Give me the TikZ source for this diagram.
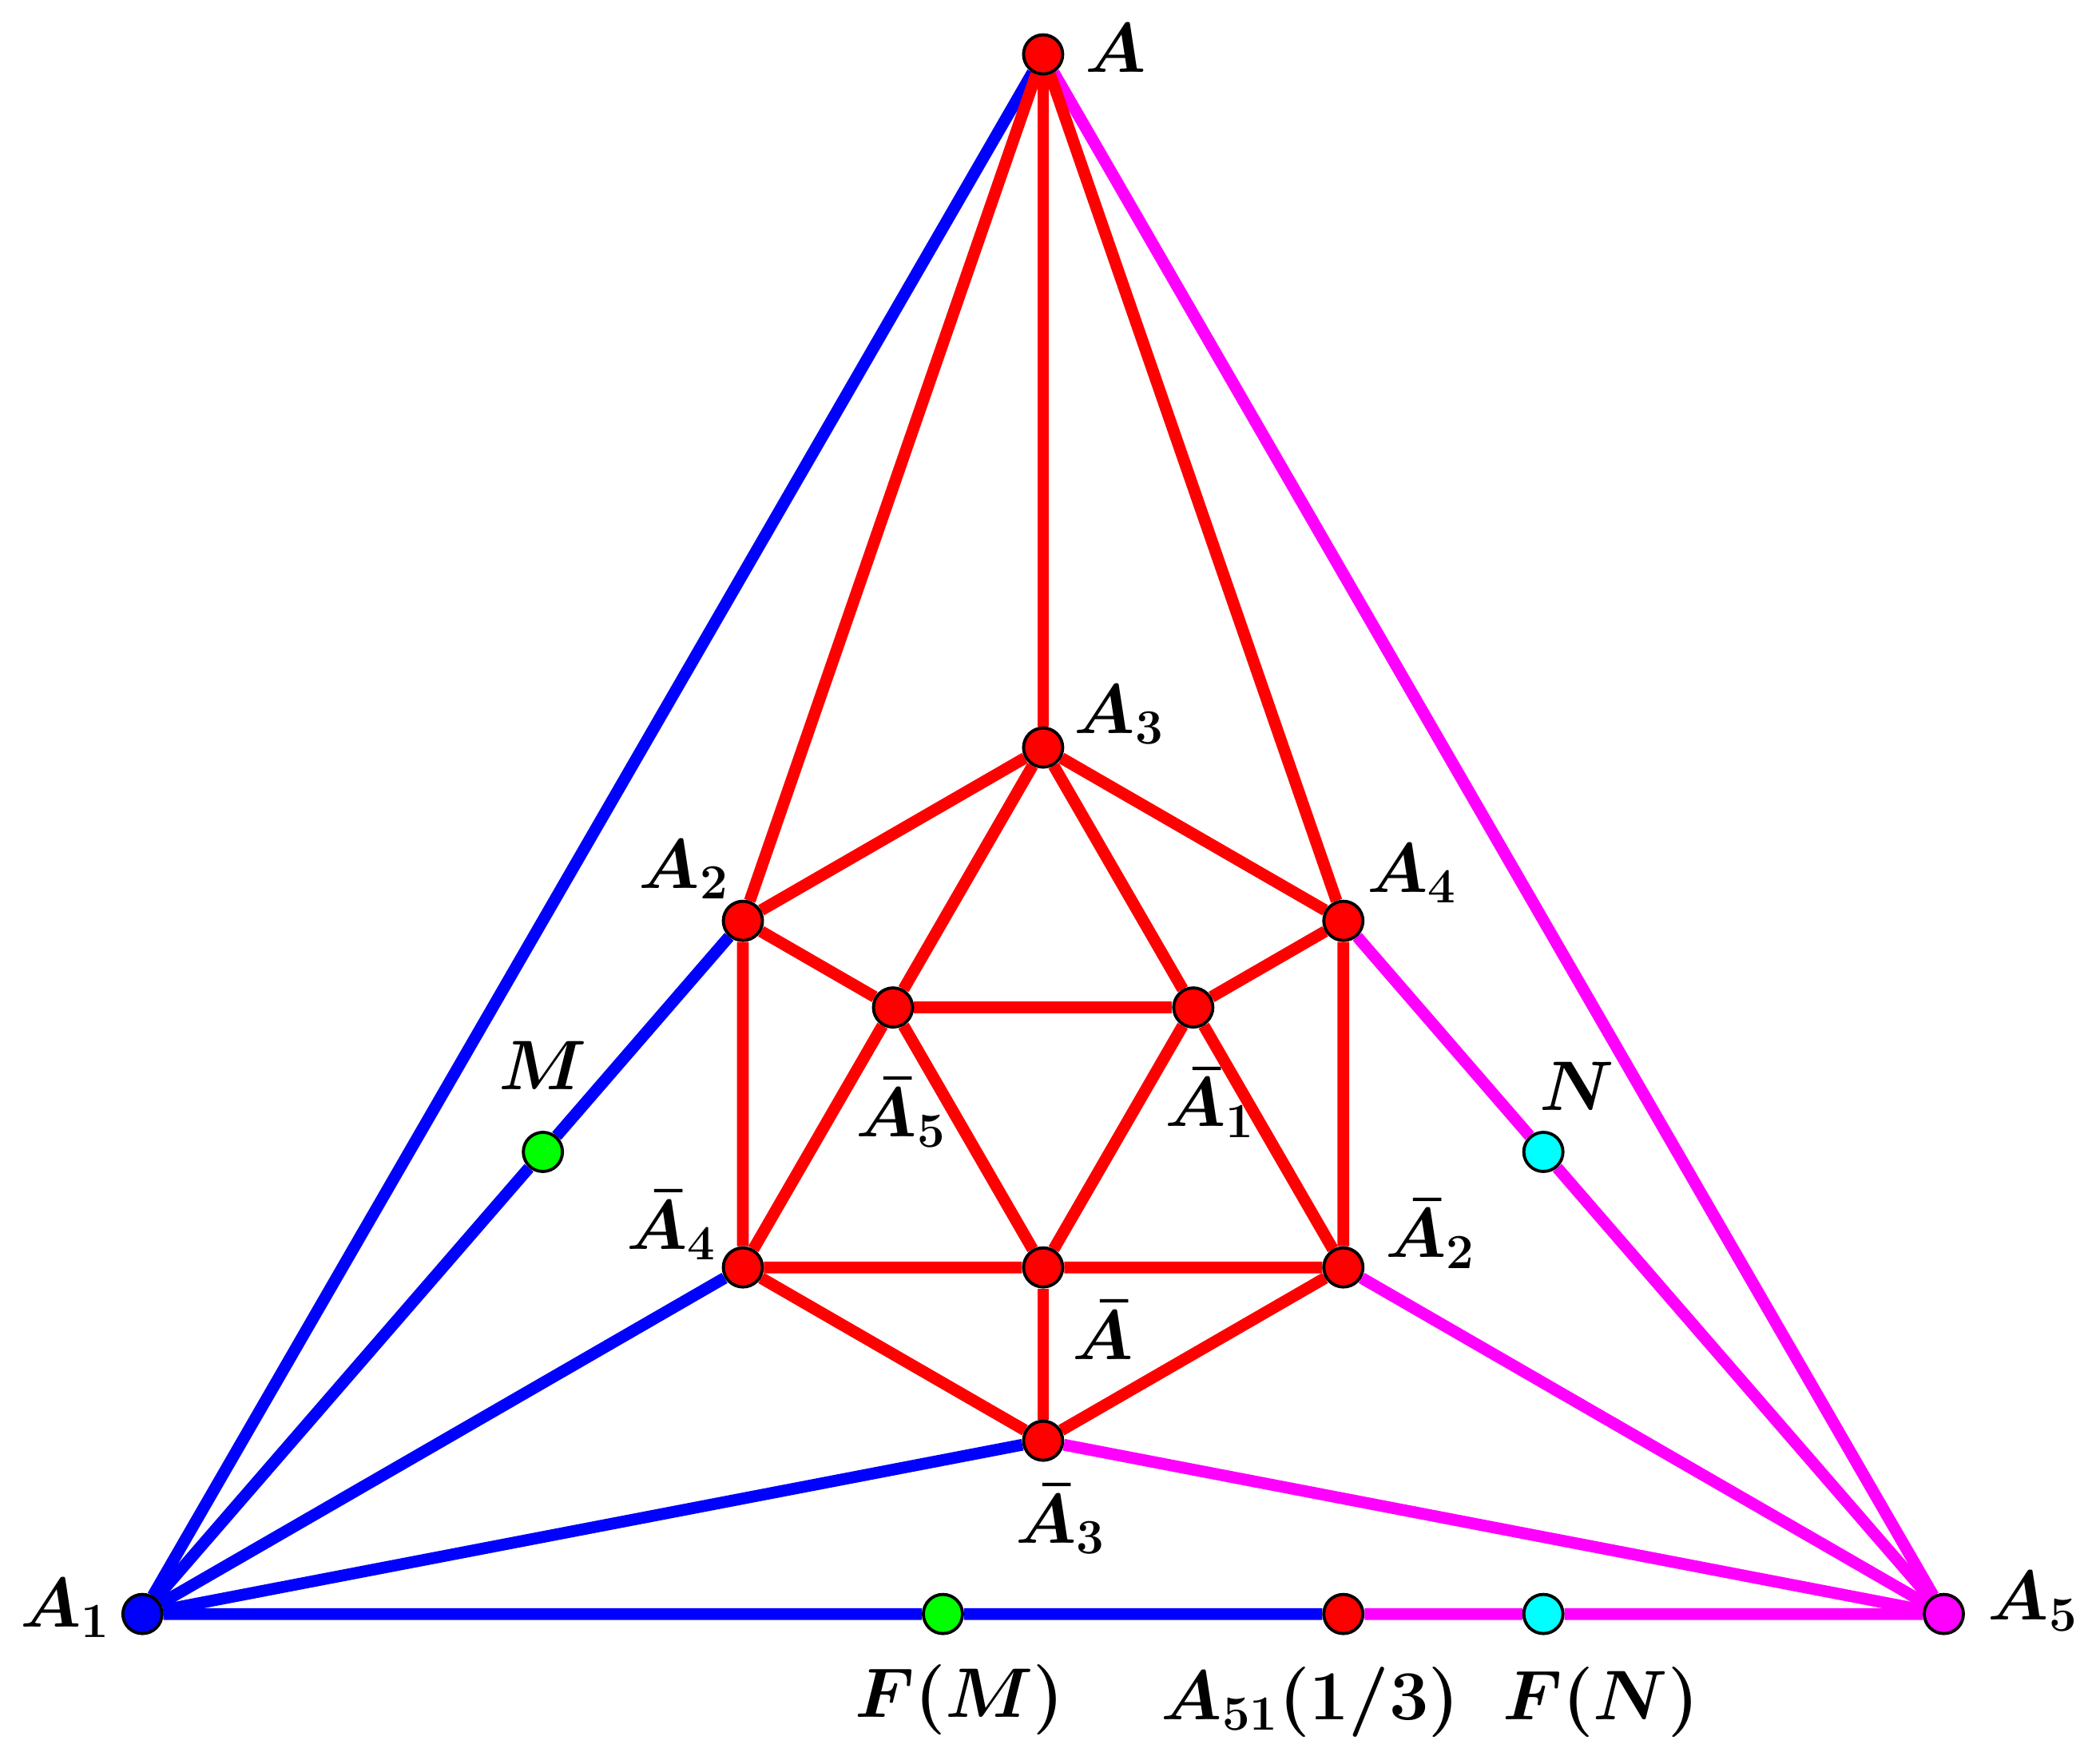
\RequirePackage{fix-cm}
\documentclass[tikz,border=0pt]{standalone}
\usepackage{amssymb, mathtools}
\usepackage{bm}
\usepackage{tikz}
\usetikzlibrary{backgrounds}
\definecolor{pmag}{RGB}{255,0,255}
\definecolor{pcyan}{RGB}{0,255,255}

\begin{document}
\begin{tikzpicture}[scale=4.34]
        \tikzset{vertex/.style = {shape=circle,draw,line width=1.1pt,inner sep=0pt,minimum size=0.49cm}}
        \tikzset{edge/.style = {-,line width=4.2pt}}
        \tikzset{lbl/.style = {anchor=base west,inner sep=0pt,font=\fontsize{25}{30}\selectfont}}
        \useasboundingbox (-3.009,-1.931) rectangle (3.014,3.157);
        % outer triangle
        \node[vertex,fill=red] (a) at (90:3) {};
        \node[vertex,fill=blue] (a1) at (210:3) {};
        \node[vertex,fill=pmag] (a5) at (330:3) {};
        % hexagon
        \node[vertex,fill=red] (a3) at (90:1) {};
        \node[vertex,fill=red] (a2) at (150:1) {};
        \node[vertex,fill=red] (a4) at (30:1) {};
        \node[vertex,fill=red] (b4) at (210:1) {};
        \node[vertex,fill=red] (b3) at (270:1) {};
        \node[vertex,fill=red] (b2) at (330:1) {};
        % inner triangle
        \node[vertex,fill=red] (b5) at (150:0.5) {};
        \node[vertex,fill=red] (b1) at (30:0.5) {};
        \node[vertex,fill=red] (b) at (270:0.5) {};
        % points on the sides
        \node[vertex,fill=green] (m) at (-1.443,-0.1667) {};
        \node[vertex,fill=pcyan] (n) at (1.443,-0.1667) {};
        \node[vertex,fill=green] (fm) at (-0.289,-1.5) {};
        \node[vertex,fill=red] (a51) at (0.866,-1.5) {};
        \node[vertex,fill=pcyan] (fn) at (1.443,-1.5) {};
        \begin{scope}[on background layer]
        \draw[edge,blue] (a1) to (a);
        \draw[edge,blue] (a1) -- (m) -- (a2);
        \draw[edge,blue] (a1) to (b4);
        \draw[edge,blue] (a1) to (b3);
        \draw[edge,blue] (a1) -- (fm) -- (a51);
        \draw[edge,pmag] (a5) to (a);
        \draw[edge,pmag] (a5) -- (n) -- (a4);
        \draw[edge,pmag] (a5) to (b2);
        \draw[edge,pmag] (a5) to (b3);
        \draw[edge,pmag] (a5) -- (fn) -- (a51);
        \draw[edge,red] (a) to (a2);
        \draw[edge,red] (a) to (a3);
        \draw[edge,red] (a) to (a4);
        \draw[edge,red] (a3) to (a2);
        \draw[edge,red] (a3) to (a4);
        \draw[edge,red] (a3) to (b5);
        \draw[edge,red] (a3) to (b1);
        \draw[edge,red] (a2) to (b5);
        \draw[edge,red] (a4) to (b1);
        \draw[edge,red] (b5) to (b1);
        \draw[edge,red] (a2) to (b4);
        \draw[edge,red] (a4) to (b2);
        \draw[edge,red] (b5) to (b4);
        \draw[edge,red] (b5) to (b);
        \draw[edge,red] (b1) to (b);
        \draw[edge,red] (b1) to (b2);
        \draw[edge,red] (b4) to (b);
        \draw[edge,red] (b) to (b2);
        \draw[edge,red] (b4) to (b3);
        \draw[edge,red] (b2) to (b3);
        \draw[edge,red] (b) to (b3);
        \end{scope}
        % labels
        \node[lbl] (la) at (0.120,2.949) {$\bm{A}$};
        \node[lbl] (la1) at (-2.952,-1.537) {$\bm{A_1}$};
        \node[lbl] (la5) at (2.724,-1.518) {$\bm{A_5}$};
        \node[lbl] (la3) at (0.088,1.041) {$\bm{A_3}$};
        \node[lbl] (la2) at (-1.168,0.594) {$\bm{A_2}$};
        \node[lbl] (la4) at (0.933,0.583) {$\bm{A_4}$};
        \node[lbl] (lb4) at (-1.203,-0.447) {$\bm{\bar{A}_4}$};
        \node[lbl] (lb2) at (0.986,-0.472) {$\bm{\bar{A}_2}$};
        \node[lbl] (lb5) at (-0.541,-0.122) {$\bm{\bar{A}_5}$};
        \node[lbl] (lb1) at (0.350,-0.094) {$\bm{\bar{A}_1}$};
        \node[lbl] (lb) at (0.083,-0.765) {$\bm{\bar{A}}$};
        \node[lbl] (lb3) at (-0.081,-1.295) {$\bm{\bar{A}_3}$};
        \node[lbl] (lm) at (-1.571,0.014) {$\bm{M}$};
        \node[lbl] (ln) at (1.431,-0.046) {$\bm{N}$};
        \node[lbl] (lfm) at (-0.544,-1.797) {$\bm{F(M)}$};
        \node[lbl] (la51) at (0.339,-1.804) {$\bm{A_{51}(1/3)}$};
        \node[lbl] (lfn) at (1.325,-1.804) {$\bm{F(N)}$};
      \end{tikzpicture}
\end{document}
